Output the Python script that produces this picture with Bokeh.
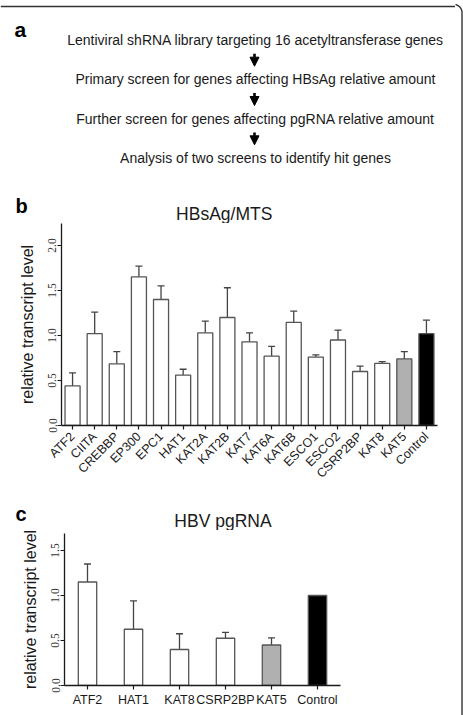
import math

from bokeh.core.properties import value
from bokeh.embed import file_html
from bokeh.layouts import column, row
from bokeh.models import (Arrow, ColumnDataSource, FactorRange, FixedTicker, NormalHead,
                          NumeralTickFormatter, Range1d, TeeHead, Whisker)
from bokeh.plotting import figure
from bokeh.resources import INLINE

# ---- data -------------------------------------------------------------
steps = [
    "Lentiviral shRNA library targeting 16 acetyltransferase genes",
    "Primary screen for genes affecting HBsAg relative amount",
    "Further screen for genes affecting pgRNA relative amount",
    "Analysis of two screens to identify hit genes",
]

genes_b = ["ATF2", "CIITA", "CREBBP", "EP300", "EPC1", "HAT1", "KAT2A", "KAT2B",
           "KAT7", "KAT6A", "KAT6B", "ESCO1", "ESCO2", "CSRP2BP", "KAT8", "KAT5",
           "Control"]
hbsag_mean = [0.44, 1.02, 0.685, 1.65, 1.40, 0.56, 1.03, 1.20, 0.93, 0.77, 1.145,
              0.76, 0.95, 0.60, 0.69, 0.74, 1.02]
hbsag_upper = [0.585, 1.26, 0.82, 1.77, 1.55, 0.625, 1.16, 1.53, 1.03, 0.88, 1.27,
               0.785, 1.06, 0.66, 0.71, 0.82, 1.17]

genes_c = ["ATF2", "HAT1", "KAT8", "CSRP2BP", "KAT5", "Control"]
pgrna_mean = [1.15, 0.625, 0.40, 0.525, 0.45, 1.0]
pgrna_upper = [1.35, 0.94, 0.575, 0.59, 0.53, None]   # control is the reference, no SD

y_ticks_b = [0.0, 0.5, 1.0, 1.5, 2.0]
y_ticks_c = [0.0, 0.5, 1.0, 1.5]

# ---- styling ----------------------------------------------------------
W = 455            # width of the figure column
EDGE_W = 8         # strip to its right that carries the frame's right edge
PAGE_H = 715
SANS = "Liberation Sans"
SERIF = "Liberation Serif"
INK = "#1a1a1a"
FRAME = "#333333"
BAR_EDGE = "#555555"
ERR = "#444444"
RISE = 0.33        # baseline lift (in em) applied to free-standing text


def bar_fill(name):
    if name == "Control":
        return "black"
    if name == "KAT5":
        return "#b0b0b0"
    return "white"


def bare(p):
    p.grid.visible = False
    p.outline_line_color = None
    p.background_fill_color = "white"
    p.border_fill_color = "white"
    # each panel keeps its own borders instead of lining up with its neighbours
    if "frame_align" in p.properties():
        p.frame_align = False


class Canvas:
    """A figure without axes; positions are page pixels measured from the top-left."""

    def __init__(self, width, height, x0=0, y0=0):
        self.h, self.y0 = height, y0
        self.fig = figure(width=width, height=height, x_range=Range1d(x0, x0 + width),
                          y_range=Range1d(0, height), x_axis_type=None,
                          y_axis_type=None, output_backend="svg", toolbar_location=None,
                          min_border=0)
        bare(self.fig)

    def y(self, top):
        return self.h - (top - self.y0)

    def text(self, x, baseline, labels, size, bold=False, align="left"):
        ys = [self.y(b - RISE * size) for b in baseline]
        self.fig.text(x=x, y=ys, text=labels, text_font=value(SANS),
                      text_font_size=f"{size}px",
                      text_font_style="bold" if bold else "normal",
                      text_align=align, text_baseline="alphabetic",
                      text_color="black" if bold else INK)

    def path(self, xs, tops, **kw):
        self.fig.line(xs, [self.y(t) for t in tops], **kw)


def style_axes(p, ticks):
    y = p.yaxis[0]
    y.ticker = FixedTicker(ticks=ticks)
    y.formatter = NumeralTickFormatter(format="0.0")
    y.major_label_orientation = "vertical"
    y.major_label_text_font = SERIF
    y.major_label_text_font_size = "11.5px"
    y.major_label_text_color = "#333333"
    y.major_label_standoff = 1
    y.axis_label = "relative transcript level"
    y.axis_label_text_font = SANS
    y.axis_label_text_font_size = "16px"
    y.axis_label_text_font_style = "normal"
    y.axis_label_text_color = INK
    y.axis_label_standoff = 10
    for ax in (p.xaxis[0], y):
        ax.axis_line_color = INK
        ax.axis_line_width = 1.3
        ax.major_tick_line_color = INK
        ax.major_tick_line_width = 1.2
        ax.major_tick_out = 4
        ax.major_tick_in = 0
        ax.minor_tick_line_color = None
    x = p.xaxis[0]
    x.major_label_text_font = SANS
    x.major_label_text_font_size = "12.5px"
    x.major_label_text_color = INK


def heading(cv, letter, title, baseline_letter, baseline_title, title_center):
    cv.text([15], [baseline_letter], [letter], 20, bold=True)
    cv.text([title_center], [baseline_title], [title], 17.5, align="center")


# outer frame: top rule, rounded top-right corner, then straight down the right side
R_CORNER, TOP, RIGHT = 8, 4, 461.5
frame_x = [0] + [RIGHT - R_CORNER + R_CORNER * math.sin(math.pi / 2 * k / 12)
                 for k in range(13)] + [RIGHT]
frame_y = [TOP] + [TOP + R_CORNER - R_CORNER * math.cos(math.pi / 2 * k / 12)
                   for k in range(13)] + [PAGE_H]

# ---- top rule of the outer frame ----------------------------------------
T = Canvas(W, 10)
T.path(frame_x, frame_y, line_color=FRAME, line_width=1.4)

# ---- panel a: screening workflow (plus the heading of panel b) ----------
A = Canvas(W, 213, y0=10)
first_baseline, spacing, cx = 44.3, 39.3, 255
A.text([cx] * len(steps), [first_baseline + i * spacing for i in range(len(steps))],
       steps, 14, align="center")
for i in range(len(steps) - 1):
    top = first_baseline + i * spacing + 9
    A.fig.add_layout(Arrow(x_start=cx - 1, y_start=A.y(top), x_end=cx - 1,
                           y_end=A.y(top + 12.4), line_width=2.6, line_color="black",
                           end=NormalHead(size=9, fill_color="black",
                                          line_color="black")))
A.text([14], [36], ["a"], 21, bold=True)
heading(A, "b", "HBsAg/MTS", 212.5, 218.8, 223.7)

# ---- panel b: HBsAg/MTS -----------------------------------------------
pb = figure(width=W, height=272, x_range=FactorRange(*genes_b, range_padding=0),
            y_range=Range1d(0, 2.244), output_backend="svg", toolbar_location=None,
            min_border_left=61, min_border_right=18, min_border_top=0,
            min_border_bottom=70)
bare(pb)
src_b = ColumnDataSource(dict(gene=genes_b, mean=hbsag_mean, upper=hbsag_upper,
                              fill=[bar_fill(g) for g in genes_b]))
pb.vbar(x="gene", top="mean", width=0.68, source=src_b, fill_color="fill",
        line_color=BAR_EDGE, line_width=1.3)
pb.add_layout(Whisker(source=src_b, base="gene", lower="mean", upper="upper",
                      line_color=ERR, line_width=1.3, lower_head=None,
                      upper_head=TeeHead(size=7, line_color=ERR, line_width=1.3)))
style_axes(pb, y_ticks_b)
pb.xaxis.major_label_orientation = math.pi / 4

# ---- heading of panel c -------------------------------------------------
C = Canvas(W, 35, y0=495)
heading(C, "c", "HBV pgRNA", 520, 526.5, 222.5)

# ---- panel c: HBV pgRNA -----------------------------------------------
pc = figure(width=W, height=185, x_range=FactorRange(*genes_c, range_padding=0),
            y_range=Range1d(0, 1.689), output_backend="svg", toolbar_location=None,
            min_border_left=64, min_border_right=115, min_border_top=3,
            min_border_bottom=30)
bare(pc)
src_c = ColumnDataSource(dict(gene=genes_c, mean=pgrna_mean,
                              fill=[bar_fill(g) for g in genes_c]))
pc.vbar(x="gene", top="mean", width=0.4, source=src_c, fill_color="fill",
        line_color=BAR_EDGE, line_width=1.3)
with_sd = [i for i, u in enumerate(pgrna_upper) if u is not None]
src_c_err = ColumnDataSource(dict(gene=[genes_c[i] for i in with_sd],
                                  mean=[pgrna_mean[i] for i in with_sd],
                                  upper=[pgrna_upper[i] for i in with_sd]))
pc.add_layout(Whisker(source=src_c_err, base="gene", lower="mean", upper="upper",
                      line_color=ERR, line_width=1.3, lower_head=None,
                      upper_head=TeeHead(size=7, line_color=ERR, line_width=1.3)))
style_axes(pc, y_ticks_c)
pc.xaxis.major_label_standoff = 3

# ---- right edge of the outer frame -------------------------------------
E = Canvas(EDGE_W, PAGE_H, x0=W)
E.path(frame_x, frame_y, line_color=FRAME, line_width=1.4)

page = row(column(T.fig, A.fig, pb, C.fig, pc), E.fig)

open("out.html", "w").write(file_html(page, INLINE))
